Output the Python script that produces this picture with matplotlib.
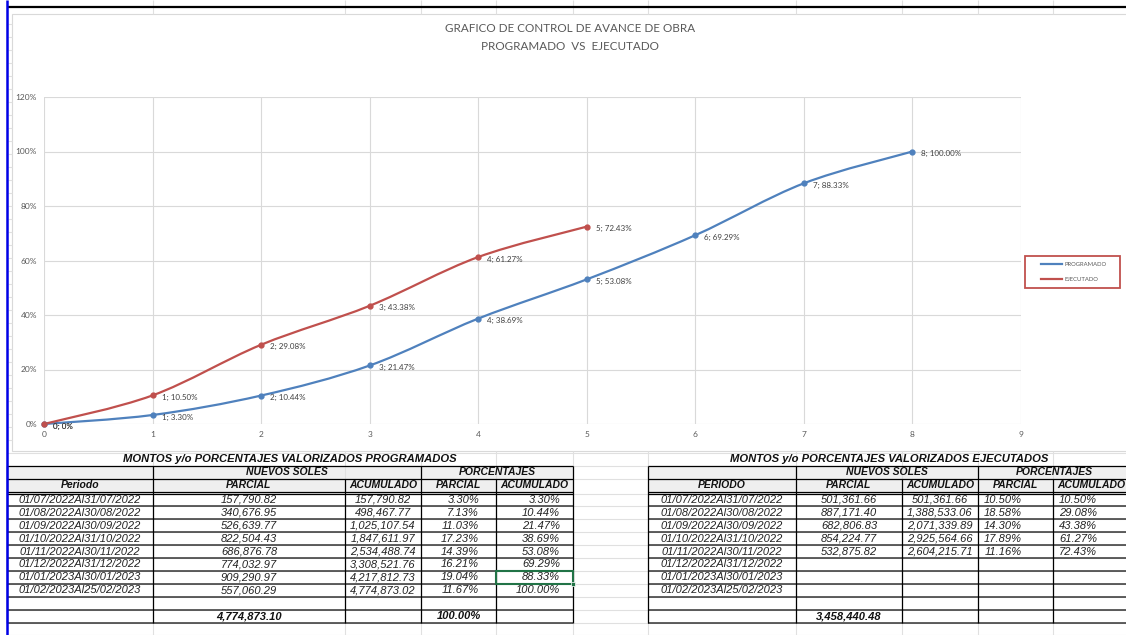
import matplotlib
matplotlib.use("Agg")
import matplotlib.pyplot as plt
from matplotlib.path import Path
from matplotlib.patches import PathPatch, Rectangle
from matplotlib.lines import Line2D
from matplotlib.ticker import FuncFormatter

# Avance acumulado de obra (%) por mes
meses_prog = [0, 1, 2, 3, 4, 5, 6, 7, 8]
avance_prog = [0, 3.30, 10.44, 21.47, 38.69, 53.08, 69.29, 88.33, 100.00]
meses_ejec = [0, 1, 2, 3, 4, 5]
avance_ejec = [0, 10.50, 29.08, 43.38, 61.27, 72.43]

# Valorizaciones mensuales
periodos = [
    "01/07/2022Al31/07/2022",
    "01/08/2022Al30/08/2022",
    "01/09/2022Al30/09/2022",
    "01/10/2022Al31/10/2022",
    "01/11/2022Al30/11/2022",
    "01/12/2022Al31/12/2022",
    "01/01/2023Al30/01/2023",
    "01/02/2023Al25/02/2023",
]
prog_parcial = [157790.82, 340676.95, 526639.77, 822504.43, 686876.78, 774032.97, 909290.97, 557060.29]
prog_acumulado = [157790.82, 498467.77, 1025107.54, 1847611.97, 2534488.74, 3308521.76, 4217812.73, 4774873.02]
prog_pct_parcial = [3.30, 7.13, 11.03, 17.23, 14.39, 16.21, 19.04, 11.67]
prog_total = 4774873.10
prog_pct_total = 100.00

ejec_parcial = [501361.66, 887171.40, 682806.83, 854224.77, 532875.82]
ejec_acumulado = [501361.66, 1388533.06, 2071339.89, 2925564.66, 2604215.71]
ejec_pct_parcial = [10.50, 18.58, 14.30, 17.89, 11.16]
ejec_total = 3458440.48

AZUL = "#4F81BD"
ROJO = "#C0504D"
GRIS_HOJA = "#E0E0E0"
GRIS_CHART = "#D9D9D9"
TXT = "#595959"

W, H = 1126, 635
fig = plt.figure(figsize=(W / 100, H / 100), dpi=100)

# Hoja de calculo de fondo, en pixeles
hoja = fig.add_axes([0, 0, 1, 1], zorder=0)
hoja.set_xlim(0, W)
hoja.set_ylim(H, 0)
hoja.axis("off")

cols_hoja = [153, 345, 421, 496, 573, 648, 796, 902, 978, 1053]
hoja.vlines(cols_hoja, 0, 14, colors=GRIS_HOJA, lw=0.8)
hoja.vlines(cols_hoja, 451, H, colors=GRIS_HOJA, lw=0.8)

Y_T, Y_H1, Y_H2, Y_D0, RH = 452.5, 465.5, 478.5, 493.5, 12.9
filas_hoja = [Y_T, Y_H1, Y_H2] + [Y_D0 + k * RH for k in range(12)]
hoja.hlines(filas_hoja, 7, W, colors=GRIS_HOJA, lw=0.8)
y = Y_T - 13
while y > 14:
    hoja.hlines(y, 8, 12, colors=GRIS_HOJA, lw=0.8)
    y -= 13

# area del grafico
hoja.add_patch(Rectangle((12, 14), W, 437, facecolor="white", edgecolor=GRIS_CHART, lw=0.8))

hoja.hlines(7, 7, W, colors="black", lw=1.6)
hoja.vlines(7, 0, H, colors="#0000E6", lw=1.8, zorder=10)

hoja.text(570, 29, "GRAFICO DE CONTROL DE AVANCE DE OBRA", ha="center", va="center",
          fontsize=8.4, color=TXT, family="Lato")
hoja.text(570, 46, "PROGRAMADO  VS  EJECUTADO", ha="center", va="center",
          fontsize=8.4, color=TXT, family="Lato")

# Grafico de avance
ax = fig.add_axes([44 / W, (H - 424) / H, (1021 - 44) / W, (424 - 97) / H], zorder=1)
ax.set_facecolor("white")
ax.set_xlim(0, 9)
ax.set_ylim(0, 120)
ax.set_xticks(range(0, 10))
ax.set_yticks(range(0, 121, 20))
ax.yaxis.set_major_formatter(FuncFormatter(lambda v, p: "{:.0f}%".format(v)))
ax.grid(True, color=GRIS_CHART, lw=0.8)
ax.set_axisbelow(True)
for s in ax.spines.values():
    s.set_visible(False)
ax.tick_params(length=0, labelsize=6, colors=TXT, pad=5)
for lbl in ax.get_xticklabels() + ax.get_yticklabels():
    lbl.set_family("Lato")


def curva_suave(xs, ys):
    pts = list(zip(xs, ys))
    verts = [pts[0]]
    codes = [Path.MOVETO]
    n = len(pts)
    for i in range(n - 1):
        p0 = pts[max(i - 1, 0)]
        p1 = pts[i]
        p2 = pts[i + 1]
        p3 = pts[min(i + 2, n - 1)]
        c1 = (p1[0] + (p2[0] - p0[0]) / 6, p1[1] + (p2[1] - p0[1]) / 6)
        c2 = (p2[0] - (p3[0] - p1[0]) / 6, p2[1] - (p3[1] - p1[1]) / 6)
        verts += [c1, c2, p2]
        codes += [Path.CURVE4] * 3
    return Path(verts, codes)


for xs, ys, color in [(meses_prog, avance_prog, AZUL), (meses_ejec, avance_ejec, ROJO)]:
    ax.add_patch(PathPatch(curva_suave(xs, ys), fill=False, edgecolor=color, lw=1.6,
                           capstyle="round", clip_on=False))
    ax.plot(xs, ys, "o", ls="none", color=color, ms=3.5, clip_on=False)
    for xv, yv in zip(xs, ys):
        txt = "{}; 0%".format(xv) if yv == 0 else "{}; {:.2f}%".format(xv, yv)
        ax.annotate(txt, (xv, yv), xytext=(6.5, -1.5), textcoords="offset points",
                    ha="left", va="center", fontsize=5.8, color="#404040", family="Lato")

# leyenda
hoja.add_patch(Rectangle((1025, 256), 95, 32, facecolor="white", edgecolor=ROJO, lw=1.3, zorder=3))
leg = ax.legend([Line2D([], [], color=AZUL, lw=1.6), Line2D([], [], color=ROJO, lw=1.6)],
                ["PROGRAMADO", "EJECUTADO"], loc="center left",
                bbox_to_anchor=(1041, 272), bbox_transform=hoja.transData,
                frameon=False, borderpad=0, borderaxespad=0,
                handlelength=3.6, handletextpad=0.5, labelspacing=1.55,
                prop={"family": "Lato", "size": 4.2})
for t in leg.get_texts():
    t.set_color(TXT)


# Tablas de montos y porcentajes
def tabla(cols, titulo, cab, parcial, acumulado, pct_parcial, pct_acum, total, pct_total, x_pct):
    x0, x1, x2, x3, x4, x5 = cols
    y_fin = Y_D0 + 10 * RH
    neg = dict(fontsize=7.5, fontweight="bold", style="italic", color="#111111",
               family="Liberation Sans", ha="center", va="center")
    nor = dict(fontsize=8, style="italic", color="#222222",
               family="Liberation Sans", va="center")

    hoja.text((x0 + x5) / 2, (Y_T + Y_H1) / 2 + 0.5, titulo, **dict(neg, fontsize=8.1))
    hoja.add_patch(Rectangle((x0, Y_H1), x5 - x0, Y_D0 - Y_H1, facecolor="#EFEFEF",
                             edgecolor="none", zorder=1))
    hoja.text((x1 + x3) / 2, (Y_H1 + Y_H2) / 2, "NUEVOS SOLES", **neg)
    hoja.text((x3 + x5) / 2, (Y_H1 + Y_H2) / 2, "PORCENTAJES", **neg)
    for a, b, t in [(x0, x1, cab), (x1, x2, "PARCIAL"), (x2, x3, "ACUMULADO"),
                    (x3, x4, "PARCIAL"), (x4, x5, "ACUMULADO")]:
        hoja.text((a + b) / 2, (Y_H2 + Y_D0) / 2 - 1, t, **neg)

    for i, per in enumerate(periodos):
        yc = Y_D0 + (i + 0.5) * RH
        hoja.text((x0 + x1) / 2, yc, per, ha="center", **nor)
        if i < len(parcial):
            hoja.text((x1 + x2) / 2, yc, "{:,.2f}".format(parcial[i]), ha="center", **nor)
            hoja.text((x2 + x3) / 2, yc, "{:,.2f}".format(acumulado[i]), ha="center", **nor)
            hoja.text(x_pct[0], yc, "{:.2f}%".format(pct_parcial[i]), ha="right", **nor)
            hoja.text(x_pct[1], yc, "{:.2f}%".format(pct_acum[i]), ha="right", **nor)

    yt = Y_D0 + 9.5 * RH
    hoja.text((x1 + x2) / 2, yt, "{:,.2f}".format(total), **dict(neg, fontsize=8))
    if pct_total is not None:
        hoja.text((x3 + x4) / 2, yt, "{:.2f}%".format(pct_total), **dict(neg, fontsize=8))

    hoja.hlines([Y_H1, Y_H2, Y_D0 - 2, Y_D0], x0, x5, colors="black", lw=0.9, zorder=2)
    hoja.hlines([Y_D0 + k * RH for k in range(1, 11)], x0, x5, colors="#333333", lw=1.1, zorder=2)
    hoja.vlines([x0, x1, x3, x5], Y_H1, y_fin, colors="black", lw=0.9, zorder=2)
    hoja.vlines([x2, x4], Y_H2, y_fin, colors="black", lw=0.9, zorder=2)


tabla([7, 153, 345, 421, 496, 573], "MONTOS y/o PORCENTAJES VALORIZADOS PROGRAMADOS", "Periodo",
      prog_parcial, prog_acumulado, prog_pct_parcial, avance_prog[1:], prog_total, prog_pct_total,
      (479, 560))
tabla([648, 796, 902, 978, 1053, 1130], "MONTOS y/o PORCENTAJES VALORIZADOS EJECUTADOS", "PERIODO",
      ejec_parcial, ejec_acumulado, ejec_pct_parcial, avance_ejec[1:], ejec_total, None,
      (1022, 1097))

# celda seleccionada
y_sel = Y_D0 + 6 * RH
hoja.add_patch(Rectangle((496, y_sel), 77, RH, facecolor="none", edgecolor="#217346", lw=1.5, zorder=4))
hoja.add_patch(Rectangle((571, y_sel + RH - 2), 4, 4, facecolor="#217346", edgecolor="white", lw=0.5, zorder=5))

fig.savefig("out.png", dpi=100)
